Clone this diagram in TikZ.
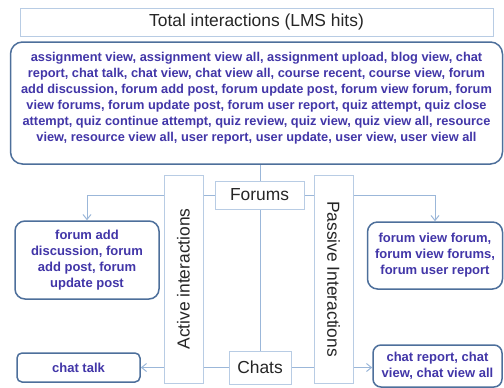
\documentclass[tikz,border=0pt]{standalone}
\usepackage{fontspec}
\setmainfont{Liberation Sans}
\usetikzlibrary{arrows.meta,backgrounds}
\definecolor{lightline}{HTML}{9BB7D9}
\definecolor{lightbox}{HTML}{B8CCE4}
\definecolor{darkbox}{HTML}{4D6F9B}
\definecolor{bluetext}{HTML}{4236A8}
\begin{document}
\begin{tikzpicture}[x=1pt,y=-1pt,
  plainbox/.style={draw=lightbox,line width=1pt,fill=white,inner sep=0pt,
    font=\fontsize{17.4}{20}\selectfont,text=black!85},
  roundbox/.style={draw=darkbox,line width=1.5pt,fill=white,inner sep=0pt,
    align=center,text=bluetext,font=\fontsize{13}{16}\selectfont\bfseries},
  conn/.style={draw=lightline,line width=1pt},
  arr/.style={conn,-{Straight Barb[length=5pt,width=8pt]}}]
\useasboundingbox (0,0) rectangle (504,388);
% title
\node[plainbox,minimum width=473pt,minimum height=28pt] (title) at (256.5,22) {Total interactions (LMS hits)};
% big box
\node[roundbox,rounded corners=12pt,minimum width=492pt,minimum height=122pt] (big) at (256.5,103) {};
\node[text=bluetext,font=\fontsize{12.8}{16}\selectfont\bfseries,align=center,inner sep=0pt] (bigtext) at (256.5,98) {assignment view, assignment view all, assignment upload, blog view, chat\\
report, chat talk, chat view, chat view all, course recent, course view, forum\\
add discussion, forum add post, forum update post, forum view forum, forum\\
view forums, forum update post, forum user report, quiz attempt, quiz close\\
attempt, quiz continue attempt, quiz review, quiz view, quiz view all, resource\\
view, resource view all, user report, user update, user view, user view all};
% side bars
\node[plainbox,minimum width=39pt,minimum height=208pt] (active) at (183.5,279) {};
\node[font=\fontsize{17.4}{20}\selectfont,text=black!85,rotate=90,inner sep=0pt] (activetext) at (active.center) {Active interactions};
\node[plainbox,minimum width=39pt,minimum height=208pt] (passive) at (333.5,279) {};
\node[font=\fontsize{17.4}{20}\selectfont,text=black!85,rotate=-90,inner sep=0pt] (passivetext) at (passive.center) {Passive Interactions};
% forums and chats
\node[plainbox,minimum width=89pt,minimum height=28pt] (forums) at (259.5,195) {Forums};
\node[plainbox,minimum width=62pt,minimum height=33pt] (chats) at (260,367.5) {Chats};
% leaf boxes
\node[roundbox,rounded corners=10pt,minimum width=144pt,minimum height=78pt] (lf) at (87,260) {forum add\\discussion, forum\\add post, forum\\update post};
\node[roundbox,rounded corners=10pt,minimum width=135pt,minimum height=67pt] (rf) at (435,255.5) {forum view forum,\\forum view forums,\\forum user report};
\node[roundbox,rounded corners=5pt,minimum width=123pt,minimum height=29pt] (ct) at (78.5,367.5) {chat talk};
\node[roundbox,rounded corners=8pt,minimum width=129pt,minimum height=42pt] (rc) at (437.5,366) {chat report, chat\\view, chat view all};
% connectors
\begin{pgfonlayer}{background}
\draw[conn] (chats.north) -- (chats.north |- big.south);
\draw[arr] (forums.west) -| (lf.north);
\draw[arr] (forums.east) -| (rf.north);
\draw[arr] (chats.west) -- (ct.east);
\draw[arr] (chats.east) -- (chats.east -| rc.west);
\end{pgfonlayer}
\end{tikzpicture}
\end{document}
